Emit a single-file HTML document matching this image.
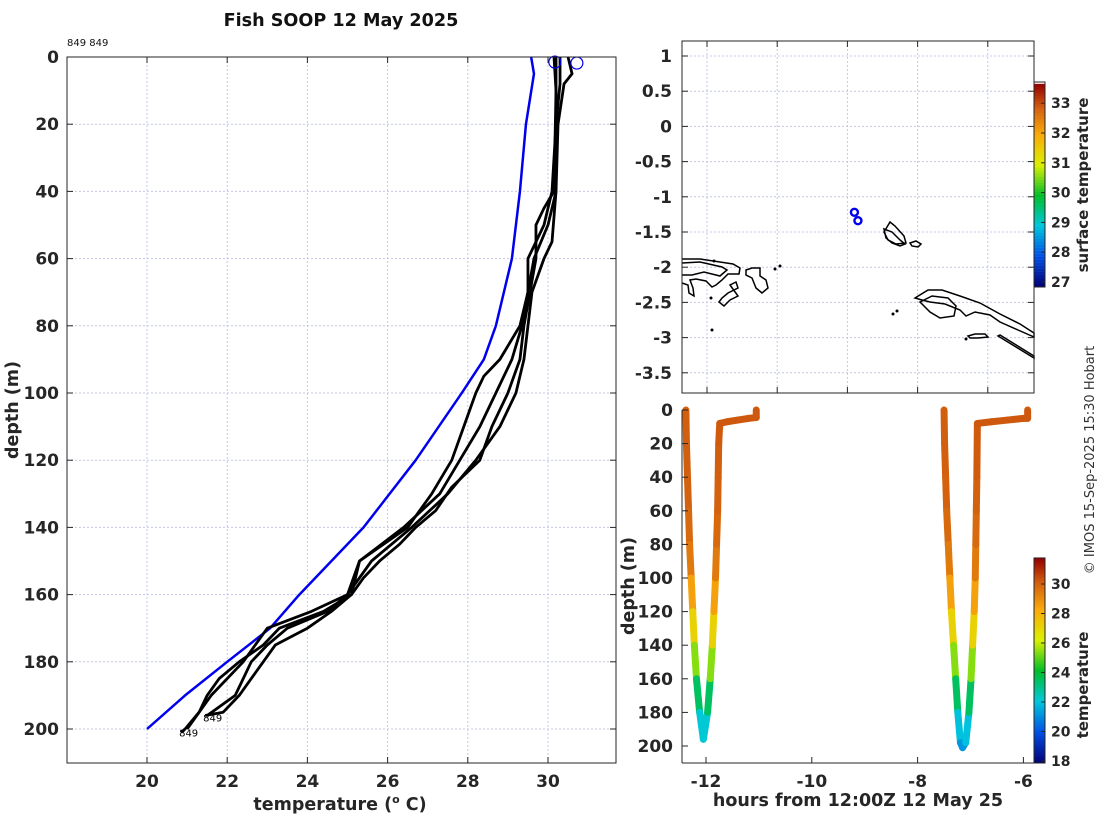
<!DOCTYPE html>
<html><head><meta charset="utf-8">
<style>
html,body{margin:0;padding:0;background:#fff;}
svg{display:block;font-family:"DejaVu Sans","Liberation Sans",sans-serif;}
.tk{font-size:17px;font-weight:bold;fill:#262626;}
.lab{font-size:17.5px;font-weight:bold;fill:#262626;}
.grid{stroke:#c4c8e6;stroke-width:1;stroke-dasharray:2,2;}
</style></head>
<body>
<svg id="chart" width="1100" height="820" viewBox="0 0 1100 820">
<rect width="1100" height="820" fill="#fff"/>
<text x="341" y="26" text-anchor="middle" font-size="17.6" font-weight="bold" fill="#111">Fish SOOP 12 May 2025</text>
<text x="67" y="46" font-size="10" fill="#111">849 849</text>
<g id="left"></g>
<g id="map"></g>
<g id="bottom"></g>
<text transform="translate(1094,460) rotate(-90)" text-anchor="middle" font-size="13" fill="#333">© IMOS 15-Sep-2025 15:30 Hobart</text>
</svg>
<script>
// ---------- Data ----------
const tempTicks = [20,22,24,26,28,30];
const depthTicks = [0,20,40,60,80,100,120,140,160,180,200];
const climDepth = [0,5,20,40,60,80,90,100,120,140,160,170,180,190,200];
const climTemp  = [29.58,29.65,29.45,29.3,29.1,28.7,28.4,27.85,26.7,25.4,23.8,23.07,22.0,20.95,20.0];
const prof1Depth = [0,10,40,45,50,60,70,80,90,100,110,120,128,135,140,145,150,155,160,165,170,175,180,185,190,195,200,201];
const prof1Temp  = [30.15,30.2,30.15,29.9,29.7,29.7,29.55,29.4,29.3,29.0,28.6,28.3,27.6,27.2,26.7,26.3,25.8,25.4,25.1,24.4,23.3,22.9,22.3,21.8,21.5,21.3,20.95,20.85];
const prof2Depth = [0,10,40,50,60,70,80,90,100,110,120,130,140,150,160,165,170,175,180,185,190,195,196];
const prof2Temp  = [30.2,30.2,30.2,30.0,29.65,29.5,29.35,29.1,28.7,28.3,27.8,27.3,26.4,25.3,25.1,24.6,24.0,23.2,22.9,22.6,22.3,21.9,21.45];
const prof3Depth = [0,5,8,20,40,55,60,70,80,90,100,110,120,130,140,150,160,165,170,175,180,185,190,196];
const prof3Temp  = [30.5,30.6,30.4,30.25,30.2,30.1,29.9,29.6,29.5,29.4,29.2,28.8,28.2,27.5,26.6,25.6,25.0,24.5,23.5,23.0,22.6,22.4,22.2,21.5];
const prof4Depth = [0,8,20,40,50,60,70,80,90,95,100,110,120,130,140,150,160,165,170,180,190,200];
const prof4Temp  = [30.3,30.3,30.2,30.1,29.9,29.5,29.5,29.3,28.8,28.4,28.2,27.9,27.6,27.1,26.5,25.3,25.0,24.1,23.0,22.4,21.6,21.0];
const surfTemp = [30.17,30.72];
const surfDepth = [1.5,1.8];
const lonTicks = [147,148,149,150,151];
const latTicks = [1,0.5,0,-0.5,-1,-1.5,-2,-2.5,-3,-3.5];
const latTickLabels = ["1","0.5","0","-0.5","-1","-1.5","-2","-2.5","-3","-3.5"];
const stnLon = [149.1,149.15];
const stnLat = [-1.22,-1.34];
const sstTicks = [27,28,29,30,31,32,33];
const hourTicks = [-12,-10,-8,-6];
const tempCbTicks = [18,20,22,24,26,28,30];
const cast1Hour  = [-12.38,-12.37,-12.35,-12.33,-12.31,-12.28,-12.25,-12.22,-12.18,-12.12,-12.05,-11.97,-11.92,-11.88,-11.85,-11.82,-11.8,-11.78,-11.77,-11.76,-11.74,-11.6,-11.4,-11.2,-11.05,-11.05];
const cast1Depth = [0,20,40,60,80,100,120,140,160,180,196,180,160,140,120,100,80,60,40,20,8,7,6,5,4.5,0];
const cast1Temp  = [30.1,30.1,30.1,30.0,29.7,29.2,27.8,26.4,24.4,22.6,21.7,22.6,24.4,26.4,27.8,29.2,29.7,30.0,30.1,30.1,30.2,30.2,30.2,30.2,30.2,30.2];
const cast2Hour  = [-7.5,-7.49,-7.47,-7.45,-7.42,-7.39,-7.36,-7.32,-7.28,-7.24,-7.19,-7.15,-7.09,-7.03,-6.99,-6.96,-6.93,-6.91,-6.9,-6.89,-6.88,-6.87,-6.6,-6.3,-6.0,-5.92,-5.92];
const cast2Depth = [0,20,40,60,80,100,120,140,160,180,198,201,198,180,160,140,120,100,80,60,40,8,7,6,5,5,0];
const cast2Temp  = [30.1,30.1,30.1,30.0,29.7,29.2,27.8,26.4,24.4,22.6,21.3,21.1,21.3,22.6,24.4,26.4,27.8,29.2,29.7,30.0,30.1,30.2,30.2,30.2,30.2,30.2,30.2];

// ---------- helpers ----------
const NS="http://www.w3.org/2000/svg";
function mk(tag,attrs,parent){const e=document.createElementNS(NS,tag);for(const k in attrs)e.setAttribute(k,attrs[k]);parent.appendChild(e);return e;}
const cmapStops=[[0,0,0,120],[0.15,0,80,230],[0.3,0,200,220],[0.45,0,190,40],[0.6,220,240,0],[0.75,250,170,10],[0.88,210,95,15],[1,150,0,0]];
function jet(f){f=Math.max(0,Math.min(1,f));
  for(let i=0;i<cmapStops.length-1;i++){const a=cmapStops[i],b=cmapStops[i+1];
    if(f<=b[0]){const u=(f-a[0])/(b[0]-a[0]);
      return `rgb(${Math.round(a[1]+u*(b[1]-a[1]))},${Math.round(a[2]+u*(b[2]-a[2]))},${Math.round(a[3]+u*(b[3]-a[3]))})`;}}
  return 'rgb(150,0,0)';}

// ---------- left panel ----------
const L=document.getElementById('left');
const lx=t=>147+(t-20)*40.1;
const ly=d=>57+d*3.36;
for(const t of tempTicks){const l=mk('line',{x1:lx(t),x2:lx(t),y1:57,y2:763,class:'grid'},L);}
for(const d of depthTicks){const l=mk('line',{x1:67,x2:616,y1:ly(d),y2:ly(d),class:'grid'},L);}
function polyline(par,xs,ys,color,w,name){
  const pts=xs.map((x,i)=>x+','+ys[i]).join(' ');
  const p=mk('polyline',{points:pts,fill:'none',stroke:color,'stroke-width':w,'stroke-linejoin':'round'},par);
  
  return p;}
polyline(L,climTemp.map(lx),climDepth.map(ly),'#0000ee',2.5,'climatology-line');
[[prof1Temp,prof1Depth],[prof2Temp,prof2Depth],[prof3Temp,prof3Depth],[prof4Temp,prof4Depth]].forEach((p,i)=>{
  polyline(L,p[0].map(lx),p[1].map(ly),'#000',2.8,'profile-line-'+(i+1));
});
surfTemp.forEach((t,i)=>{const c=mk('circle',{cx:lx(t),cy:ly(surfDepth[i]),r:6,fill:'none',stroke:'#0000ee','stroke-width':1.2},L);
  });
let tl=mk('text',{x:lx(prof2Temp[prof2Temp.length-1])-2,y:ly(prof2Depth[prof2Depth.length-1])+6,'font-size':10},L);tl.textContent='849';

tl=mk('text',{x:lx(prof1Temp[prof1Temp.length-1])-2,y:ly(prof1Depth[prof1Depth.length-1])+4,'font-size':10},L);tl.textContent='849';

mk('rect',{x:67,y:57,width:549,height:706,fill:'none',stroke:'#262626','stroke-width':1},L);
for(const t of tempTicks){mk('line',{x1:lx(t),x2:lx(t),y1:57,y2:63,stroke:'#262626'},L);mk('line',{x1:lx(t),x2:lx(t),y1:763,y2:757,stroke:'#262626'},L);
  const e=mk('text',{x:lx(t),y:787,'text-anchor':'middle',class:'tk'},L);e.textContent=t;}
for(const d of depthTicks){mk('line',{x1:67,x2:73,y1:ly(d),y2:ly(d),stroke:'#262626'},L);mk('line',{x1:616,x2:610,y1:ly(d),y2:ly(d),stroke:'#262626'},L);
  const e=mk('text',{x:59,y:ly(d)+6,'text-anchor':'end',class:'tk'},L);e.textContent=d;}
let e=mk('text',{x:340,y:810,'text-anchor':'middle',class:'lab'},L);e.innerHTML='temperature (<tspan font-size="11" dy="-7">o</tspan><tspan dy="7"> C)</tspan>';

e=mk('text',{transform:'translate(18,410) rotate(-90)','text-anchor':'middle',class:'lab'},L);e.textContent='depth (m)';


// ---------- map ----------
const M=document.getElementById('map');
const mx=lo=>707+(lo-147)*70.2;
const my=la=>56+(1-la)*70.4;
for(const lo of lonTicks){const l=mk('line',{x1:mx(lo),x2:mx(lo),y1:41,y2:393,class:'grid'},M);}
for(const la of latTicks){const l=mk('line',{x1:682,x2:1034,y1:my(la),y2:my(la),class:'grid'},M);}
const coast=[
"M682,259 L700,259 L720,262 L733,264 L740,268 L739,274 L728,274 L722,280 L716,285 L712,287 L706,281 L696,279 L690,280 L693,288 L694,296 L689,293 L688,285 L682,283",
"M682,263 L700,262 L722,267 L727,270 L720,276 L704,272 L692,275 L682,275",
"M746,270 L752,268 L760,268 L760,276 L766,280 L768,288 L762,293 L756,288 L752,278 L746,275 Z",
"M730,285 L736,282 L738,288 L728,293 L722,298 L719,302 L724,306 L730,300 L738,296 Z",
"M884,229 L892,232 L900,240 L905,244 L900,246 L892,243 L886,238 Z",
"M890,222 L895,226 L904,236 L906,243 L896,244 L888,240 L884,232 Z",
"M910,243 L916,241 L921,244 L918,247 L912,246 Z",
"M915,298 L928,290 L942,290 L960,296 L980,303 L1000,314 L1020,324 L1034,333 L1034,337 L1018,330 L1000,322 L990,315 L975,312 L966,316 L960,310 L945,304 L930,302 L922,300 Z",
"M920,302 L932,296 L948,298 L956,306 L954,316 L940,318 L930,312 Z",
"M1000,335 L1034,356 L1034,358 L998,336 Z",
"M968,336 L975,334 L985,334 L988,337 L978,338 L970,338 Z"];
coast.forEach(d=>{const p=mk('path',{d:d,fill:'none',stroke:'#000','stroke-width':1.5},M);});
[[711,298],[712,330],[775,269],[780,266],[966,339],[893,314],[897,311],[714,261]].forEach(q=>{mk('circle',{cx:q[0],cy:q[1],r:1.5,fill:'#000'},M);});
stnLon.forEach((lo,i)=>{const c=mk('circle',{cx:mx(lo),cy:my(stnLat[i]),r:3.5,fill:'none',stroke:'#0000ee','stroke-width':2.4},M);
  });
mk('rect',{x:682,y:41,width:352,height:352,fill:'none',stroke:'#262626'},M);
for(const lo of lonTicks){mk('line',{x1:mx(lo),x2:mx(lo),y1:41,y2:47,stroke:'#262626'},M);mk('line',{x1:mx(lo),x2:mx(lo),y1:393,y2:387,stroke:'#262626'},M);
  const t=mk('text',{x:mx(lo),y:417,'text-anchor':'middle',class:'tk'},M);t.textContent=lo;}
latTicks.forEach((la,i)=>{mk('line',{x1:682,x2:688,y1:my(la),y2:my(la),stroke:'#262626'},M);mk('line',{x1:1034,x2:1028,y1:my(la),y2:my(la),stroke:'#262626'},M);
  const t=mk('text',{x:672,y:my(la)+6,'text-anchor':'end',class:'tk'},M);t.textContent=latTickLabels[i];});
// sst colorbar
const sy=v=>282-(v-27)*29.8;
for(let k=0;k<68;k++){const v0=26.85+k*0.1;mk('rect',{x:1034,y:sy(v0+0.1),width:11,height:3.2,fill:jet((v0+0.05-26.85)/6.8)},M);}
mk('rect',{x:1034,y:82,width:11,height:205,fill:'none',stroke:'#262626'},M);
for(const v of sstTicks){mk('line',{x1:1045,x2:1041,y1:sy(v),y2:sy(v),stroke:'#262626'},M);
  const t=mk('text',{x:1051,y:sy(v)+5,class:'tk',style:'font-size:14px'},M);t.textContent=v;}
e=mk('text',{transform:'translate(1088,185) rotate(-90)','text-anchor':'middle',class:'lab',style:'font-size:15px'},M);e.textContent='surface temperature';


// ---------- bottom panel ----------
const B=document.getElementById('bottom');
mk('rect',{x:682,y:402,width:352,height:361,fill:'#fff'},B);
const bx=h=>706+(h+12)*52.9;
const by=d=>410+d*1.68;
const cf=t=>jet((t-17.9)/13.85);
function cast(hs,ds,ts,name){
  for(let i=0;i<hs.length-1;i++){
    const s=mk('line',{x1:bx(hs[i]),y1:by(ds[i]),x2:bx(hs[i+1]),y2:by(ds[i+1]),stroke:cf((ts[i]+ts[i+1])/2),'stroke-width':7,'stroke-linecap':'round'},B);
    
    
  }
}
cast(cast1Hour,cast1Depth,cast1Temp,'cast-1');
cast(cast2Hour,cast2Depth,cast2Temp,'cast-2');
mk('line',{x1:682,x2:682,y1:410,y2:763,stroke:'#262626'},B);
mk('line',{x1:682,x2:1034,y1:763,y2:763,stroke:'#262626'},B);
for(const h of hourTicks){mk('line',{x1:bx(h),x2:bx(h),y1:763,y2:757,stroke:'#262626'},B);
  const t=mk('text',{x:bx(h),y:787,'text-anchor':'middle',class:'tk'},B);t.textContent=h;}
for(const d of depthTicks){mk('line',{x1:682,x2:688,y1:by(d),y2:by(d),stroke:'#262626'},B);
  const t=mk('text',{x:673,y:by(d)+6,'text-anchor':'end',class:'tk'},B);t.textContent=d;}
e=mk('text',{x:858,y:806,'text-anchor':'middle',class:'lab'},B);e.textContent='hours from 12:00Z 12 May 25';

e=mk('text',{transform:'translate(634,586) rotate(-90)','text-anchor':'middle',class:'lab'},B);e.textContent='depth (m)';

const cy2=v=>761-(v-18)*14.75;
for(let k=0;k<139;k++){const v0=17.9+k*0.1;mk('rect',{x:1034,y:cy2(v0+0.1),width:11,height:1.8,fill:cf(v0+0.05)},B);}
mk('rect',{x:1034,y:558,width:11,height:205,fill:'none',stroke:'#262626'},B);
for(const v of tempCbTicks){mk('line',{x1:1045,x2:1041,y1:cy2(v),y2:cy2(v),stroke:'#262626'},B);
  const t=mk('text',{x:1051,y:cy2(v)+5,class:'tk',style:'font-size:14px'},B);t.textContent=v;}
e=mk('text',{transform:'translate(1088,685) rotate(-90)','text-anchor':'middle',class:'lab',style:'font-size:15px'},B);e.textContent='temperature';

</script>
</body></html>
